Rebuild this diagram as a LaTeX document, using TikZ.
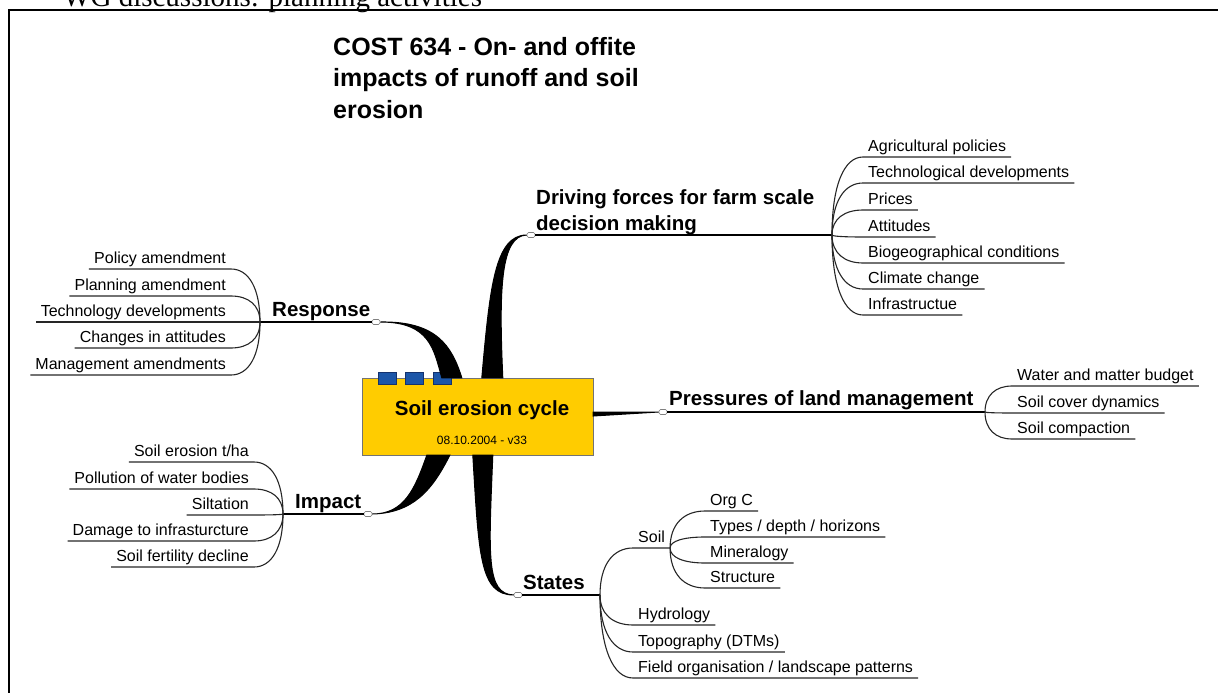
\documentclass[tikz,border=0pt]{standalone}
\usepackage{fontspec}
\setmainfont{Liberation Sans}
\newfontfamily\slidefont{Liberation Serif}
\usetikzlibrary{calc}
\definecolor{hubfill}{RGB}{255,204,0}
\definecolor{tabfill}{RGB}{28,86,168}
\definecolor{tabline}{RGB}{20,50,110}
\tikzset{
  hub/.style={draw=black!55, fill=hubfill, minimum width=231pt, minimum height=77pt, inner sep=0pt},
  tab/.style={draw=tabline, fill=tabfill, minimum width=18pt, minimum height=12pt, inner sep=0pt},
  knob/.style={draw=black!50, fill=white, rounded corners=1.5pt, minimum width=8pt, minimum height=5pt, inner sep=0pt, line width=0.6pt},
  topic/.style={font=\fontsize{20.5}{26}\selectfont\bfseries, inner sep=0pt, align=left},
  leaf/.style={font=\fontsize{16}{19}\selectfont, inner xsep=5pt, inner ysep=0pt, text depth=5pt},
  stem/.style={line width=1.5pt},
  trunk/.style={fill=black, draw=black, line width=1pt},
  twig/.style={line width=1.1pt, black!85,
    to path={.. controls ($(\tikztostart)!0.65!(\tikztostart |- \tikztotarget)$)
      and ($(\tikztotarget)!0.6!(\tikztostart |- \tikztotarget)$) .. (\tikztotarget) \tikztonodes}},
}

\begin{document}
\begin{tikzpicture}[x=1pt, y=-1pt]
  \useasboundingbox (0,0) rectangle (1218,693);
  % slide frame and heading
  \node[anchor=base west, inner sep=0pt, font=\slidefont\fontsize{29}{33}\selectfont] (slidehead) at (63,7) {WG discussions: planning activities};
  \draw[line width=2pt] (9,720) -- (9,10) -- (1240,10);
  \node[anchor=north west, align=left, inner sep=0pt, font=\fontsize{25}{31.5}\selectfont\bfseries] (costtitle) at (333,37) {COST 634 - On- and offite\\impacts of runoff and soil\\erosion};

  % central topic
  \node[hub] (hub) at (477.5,416.5) {};
  \node[tab] (tab1) at (387,378) {};
  \node[tab] (tab2) at (414,378) {};
  \node[tab] (tab3) at (442,378) {};
  \node[font=\fontsize{20.5}{24}\selectfont\bfseries, inner sep=0pt] (hubtitle) at (482,410) {Soil erosion cycle};
  \node[font=\fontsize{12}{14}\selectfont, inner sep=0pt] (hubdate) at (482,440) {08.10.2004 - v33};

  % main branch markers and junctions
  \node[knob] (respk) at (376,322) {};
  \node[knob] (drivek) at (531,235) {};
  \node[knob] (pressk) at (663,412) {};
  \node[knob] (impk) at (368,514) {};
  \node[knob] (statek) at (518,595) {};
  \coordinate (respj) at (260,322);
  \coordinate (drivej) at (832,235);
  \coordinate (pressj) at (985,412);
  \coordinate (impj) at (283,514);
  \coordinate (statej) at (600,595);

  % tapered trunks
  \filldraw[trunk] ($(hub.north west)+(80,0)$) .. controls +(-8,-28) and +(50,0) .. (respk.east)
    .. controls +(56,-1) and +(-10,-32) .. ($(hub.north west)+(100,0)$) -- cycle;
  \filldraw[trunk] ($(hub.north west)+(120,0)$) .. controls +(8,-90) and +(-32,0) .. (drivek.west)
    .. controls +(-26,1) and +(-4,-90) .. ($(hub.north west)+(141,0)$) -- cycle;
  \filldraw[trunk] ($(hub.east)+(0,-4.5)$) -- (pressk.west) -- ($(hub.east)+(0,-0.5)$) -- cycle;
  \filldraw[trunk] ($(hub.south west)+(65,0)$) .. controls +(-12,34) and +(32,0) .. (impk.east)
    .. controls +(40,-1) and +(-18,36) .. ($(hub.south west)+(88,0)$) -- cycle;
  \filldraw[trunk] ($(hub.south west)+(111,0)$) .. controls +(6,100) and +(-34,0) .. (statek.west)
    .. controls +(-28,-1) and +(-4,100) .. ($(hub.south west)+(131,0)$) -- cycle;

  % branch labels
  \node[topic, anchor=base west] (resplabel) at (272,316) {Response};
  \node[topic, anchor=north west] (drivelabel) at (536,189) {Driving forces for farm scale\\decision making};
  \node[topic, anchor=base west] (presslabel) at (669,405) {Pressures of land management};
  \node[topic, anchor=base west] (implabel) at (295,508) {Impact};
  \node[topic, anchor=base west] (statelabel) at (523,589) {States};
  \draw[stem] (respk) -- (respj);
  \draw[stem] (drivek) -- (drivej);
  \draw[stem] (pressk) -- (pressj);
  \draw[stem] (impk) -- (impj);
  \draw[stem] (statek) -- (statej);

  % driving forces
  \node[leaf, anchor=south west] (agri) at (863,157) {Agricultural policies};
  \node[leaf, anchor=south west] (techdev) at (863,183) {Technological developments};
  \node[leaf, anchor=south west] (prices) at (863,210) {Prices};
  \node[leaf, anchor=south west] (attit) at (863,237) {Attitudes};
  \node[leaf, anchor=south west] (biogeo) at (863,263) {Biogeographical conditions};
  \node[leaf, anchor=south west] (climate) at (863,289) {Climate change};
  \node[leaf, anchor=south west] (infra) at (863,315) {Infrastructue};
  \foreach \n in {agri,techdev,prices,attit,biogeo,climate,infra}
    \draw[twig] (drivej) to (\n.south west) -- (\n.south east);

  % pressures
  \node[leaf, anchor=south west] (water) at (1012,386) {Water and matter budget};
  \node[leaf, anchor=south west] (cover) at (1012,413) {Soil cover dynamics};
  \node[leaf, anchor=south west] (compact) at (1012,439) {Soil compaction};
  \foreach \n in {water,cover,compact}
    \draw[twig] (pressj) to (\n.south west) -- (\n.south east);

  % response
  \node[leaf, anchor=south east] (policy) at (231,269) {Policy amendment};
  \node[leaf, anchor=south east] (planning) at (231,296) {Planning amendment};
  \node[leaf, anchor=south east] (techno) at (231,322) {Technology developments};
  \node[leaf, anchor=south east] (changes) at (231,348) {Changes in attitudes};
  \node[leaf, anchor=south east] (manage) at (231,375) {Management amendments};
  \foreach \n in {policy,planning,techno,changes,manage}
    \draw[twig] (respj) to (\n.south east) -- (\n.south west);

  % impact
  \node[leaf, anchor=south east] (erosion) at (254,462) {Soil erosion t/ha};
  \node[leaf, anchor=south east] (pollution) at (254,489) {Pollution of water bodies};
  \node[leaf, anchor=south east] (siltation) at (254,515) {Siltation};
  \node[leaf, anchor=south east] (damage) at (254,541) {Damage to infrasturcture};
  \node[leaf, anchor=south east] (fertility) at (254,567) {Soil fertility decline};
  \foreach \n in {erosion,pollution,siltation,damage,fertility}
    \draw[twig] (impj) to (\n.south east) -- (\n.south west);

  % states
  \node[leaf, anchor=south west] (soil) at (633,548) {Soil};
  \node[leaf, anchor=south west] (orgc) at (705,511) {Org C};
  \node[leaf, anchor=south west] (types) at (705,537) {Types / depth / horizons};
  \node[leaf, anchor=south west] (minera) at (705,563) {Mineralogy};
  \node[leaf, anchor=south west] (struct) at (705,588) {Structure};
  \node[leaf, anchor=south west] (hydro) at (633,625) {Hydrology};
  \node[leaf, anchor=south west] (topo) at (633,652) {Topography (DTMs)};
  \node[leaf, anchor=south west] (field) at (633,678) {Field organisation / landscape patterns};
  \foreach \n in {soil,hydro,topo,field}
    \draw[twig] (statej) to (\n.south west) -- (\n.south east);
  \foreach \n in {orgc,types,minera,struct}
    \draw[twig] (soil.south east) to (\n.south west) -- (\n.south east);
\end{tikzpicture}
\end{document}
